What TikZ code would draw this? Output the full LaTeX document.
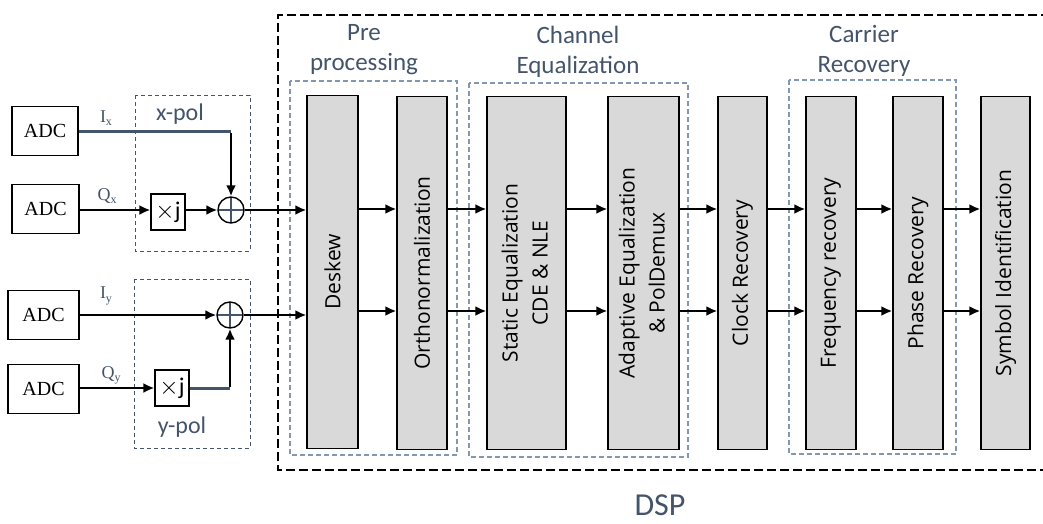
\documentclass[tikz,border=0pt]{standalone}
\usepackage{fontspec}
\setmainfont{Open Sans}
\newfontfamily\calib{Carlito}
\newfontfamily\tnr{Liberation Serif}
\usetikzlibrary{arrows.meta,calc}
\definecolor{slate}{HTML}{44546A}
\definecolor{grp}{HTML}{8497B0}
\definecolor{stagefill}{HTML}{D9D9D9}
\newcommand{\sig}[2]{{\tnr\fontsize{18}{20}\selectfont #1\raisebox{-0.4ex}{\fontsize{12}{12}\selectfont #2}}}
\begin{document}
\begin{tikzpicture}[x=1pt,y=-1pt,
  stage/.style={draw=black, line width=1.3pt, fill=stagefill, inner sep=0pt,
    minimum height=353pt, font=\fontsize{21}{30}\selectfont},
  adc/.style={draw=black, line width=1.2pt, fill=white, minimum height=49pt,
    inner sep=0pt, font=\tnr\fontsize{20}{24}\selectfont},
  mul/.style={draw=black, line width=1.2pt, fill=white, minimum width=34pt,
    minimum height=36pt, inner sep=0pt, font=\calib\fontsize{24}{26}\selectfont},
  sum/.style={circle, draw=black, line width=1.4pt, minimum size=26pt, inner sep=0pt,
    path picture={\draw[slate, line width=2.6pt]
      (path picture bounding box.north) -- (path picture bounding box.south)
      (path picture bounding box.west) -- (path picture bounding box.east);}},
  arr/.style={line width=2.5pt, -{Latex[length=11pt,width=10pt]}},
  slatewire/.style={line width=3pt, slate},
  polbox/.style={draw=slate, line width=1pt, dash pattern=on 4pt off 3pt},
  grpbox/.style={draw=grp, line width=1.1pt, dash pattern=on 5pt off 3pt},
  dspframe/.style={draw=black, line width=2.8pt, dash pattern=on 9pt off 4pt},
  grplabel/.style={align=center, text=slate, font=\calib\fontsize{25}{30}\selectfont},
  pollabel/.style={text=slate, font=\calib\fontsize{24}{26}\selectfont},
  siglabel/.style={text=slate, inner sep=0pt}
]
\useasboundingbox (0,0) rectangle (1043,523);
\clip (0,0) rectangle (1043,523);

% DSP frame (open on the right)
\draw[dspframe] (1050,15) -- (278,15) -- (278,470) -- (1050,470);
\node[text=slate, inner sep=1pt, font=\calib\fontsize{32}{34}\selectfont] (dsp) at (660,505) {DSP};

% functional groups
\draw[grpbox] (290,81) rectangle (457,455);
\draw[grpbox] (469,83) rectangle (688,457);
\draw[grpbox] (789,80) rectangle (956,454);
\node[grplabel] (lpre) at (364,50) {Pre\\processing};
\node[grplabel] (lceq) at (578,52) {Channel\\Equalization};
\node[grplabel] (lcar) at (864,51) {Carrier\\Recovery};

% DSP stages
\node[stage, minimum width=51pt] (deskew) at (332.5,272) {\rotatebox{90}{Deskew}};
\node[stage, minimum width=50pt] (ortho)  at (422,273) {\rotatebox{90}{Orthonormalization}};
\node[stage, minimum width=79pt] (static) at (526.5,273) {\rotatebox{90}{\begin{tabular}{@{}c@{}}Static Equalization\\CDE \& NLE\end{tabular}}};
\node[stage, minimum width=71pt] (adapt)  at (643.5,273) {\rotatebox{90}{\begin{tabular}{@{}c@{}}Adaptive Equalization\\\& PolDemux\end{tabular}}};
\node[stage, minimum width=49pt] (clock)  at (742.5,273) {\rotatebox{90}{Clock Recovery}};
\node[stage, minimum width=50pt] (freq)   at (831,273) {\rotatebox{90}{Frequency recovery}};
\node[stage, minimum width=50pt] (phase)  at (918,273) {\rotatebox{90}{Phase Recovery}};
\node[stage, minimum width=49pt] (symb)   at (1005.5,273) {\rotatebox{90}{Symbol Identification}};

% polarisation front-end
\draw[polbox] (135,95) rectangle (250,251);
\draw[polbox] (134,279) rectangle (250,448);
\node[pollabel] (lxpol) at (180,114) {x-pol};
\node[pollabel] (lypol) at (182,427) {y-pol};

\node[adc, minimum width=66pt] (adc1) at (45,131) {ADC};
\node[adc, minimum width=67pt] (adc2) at (45.5,209) {ADC};
\node[adc, minimum width=71pt] (adc3) at (43.5,315) {ADC};
\node[adc, minimum width=71pt] (adc4) at (43.5,389) {ADC};

\node[mul] (mx) at (168,212) {$\times$j};
\node[mul] (my) at (172,388) {$\times$j};
\node[sum] (sx) at (231,210) {};
\node[sum] (sy) at (230,315) {};

\node[siglabel] (lix) at (106,118) {\sig{I}{x}};
\node[siglabel] (lqx) at (107,196) {\sig{Q}{x}};
\node[siglabel] (liy) at (106,296) {\sig{I}{y}};
\node[siglabel] (lqy) at (111,375) {\sig{Q}{y}};

% x branch
\coordinate (cx) at (sx |- adc1.east);
\draw[slatewire] (adc1.east) -- (cx);
\draw[arr] ([yshift=-1.5pt]cx) -- (sx.north);
\draw[arr] (adc2.east |- sx) -- (mx.west |- sx);
\draw[arr] (mx.east |- sx) -- (sx.west);
\draw[arr] (sx.east) -- (sx -| deskew.west);

% y branch
\coordinate (cy) at (sy |- my.east);
\draw[arr] (adc3.east |- sy) -- (sy.west);
\draw[arr] (adc4.east |- my) -- (my.west);
\draw[slatewire] (my.east) -- (cy);
\draw[arr] ([yshift=1.5pt]cy) -- (sy.south);
\draw[arr] (sy.east) -- (sy -| deskew.west);

% two signal lanes through the chain
\coordinate (r1) at (0,209);
\coordinate (r2) at (0,311);
\foreach \a/\b in {deskew/ortho, ortho/static, static/adapt, adapt/clock,
                   clock/freq, freq/phase, phase/symb} {
  \draw[arr] (\a.east |- r1) -- (\b.west |- r1);
  \draw[arr] (\a.east |- r2) -- (\b.west |- r2);
}
\end{tikzpicture}
\end{document}
